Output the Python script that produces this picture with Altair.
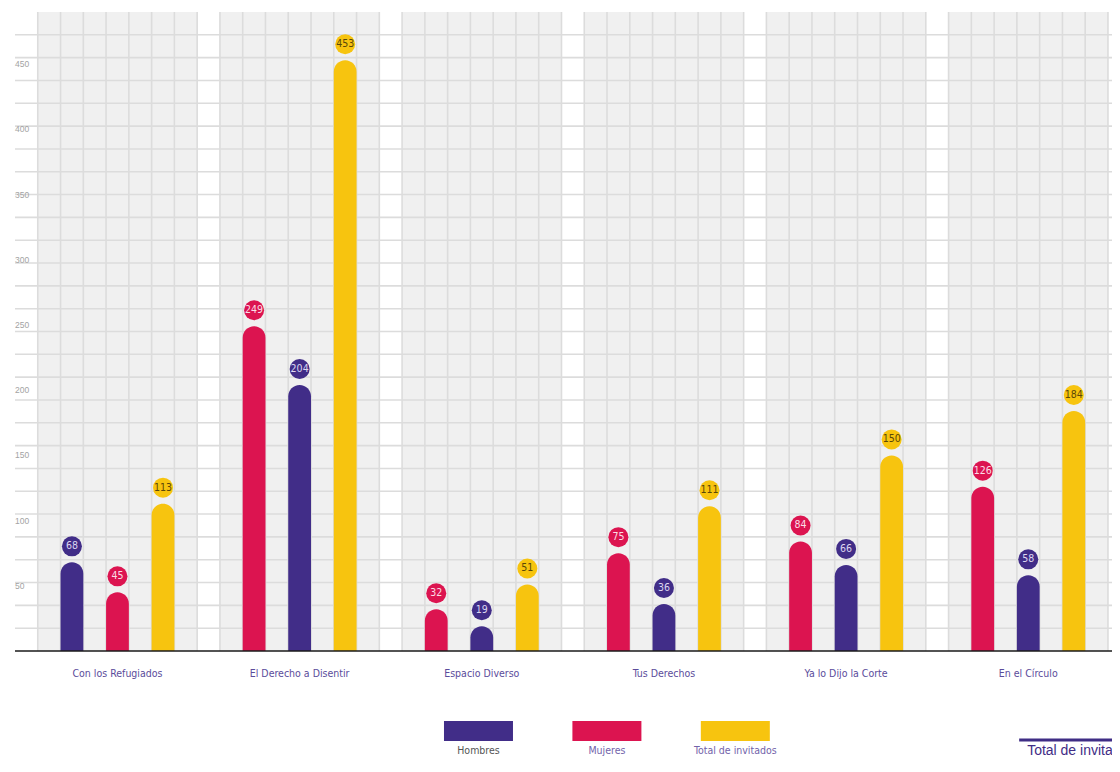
import altair as alt
import pandas as pd

# ---- data ----
programs = ["Con los Refugiados", "El Derecho a Disentir", "Espacio Diverso",
            "Tus Derechos", "Ya lo Dijo la Corte", "En el Círculo"]
hombres = [68, 204, 19, 36, 66, 58]
mujeres = [45, 249, 32, 75, 84, 126]
total = [113, 453, 51, 111, 150, 184]
series = ["Hombres", "Mujeres", "Total de invitados"]
# order of the three bars inside each group
orders = [["Hombres", "Mujeres", "Total de invitados"]] + \
         [["Mujeres", "Hombres", "Total de invitados"]] * 5
y_tick_labels = [50, 100, 150, 200, 250, 300, 350, 400, 450]
title_text = "Total de invitados"

# ---- styling ----
colors = ["#412d88", "#dc1450", "#f7c40f"]
value_text_colors = ["#dcd6f0", "#fbdde6", "#5a4708"]
legend_text_colors = ["#555555", "#7263aa", "#7263aa"]
FONT = "Liberation Sans Narrow, DejaVu Sans Condensed, Liberation Sans, sans-serif"

# grid layout (in cell units)
CELL_PX = 22.77
PLOT_W, PLOT_H = 1097, 639
N_ROWS, ROW_UNITS, GROUP = 28, 17.5, 8
XMAX = PLOT_W / CELL_PX
N_VLINES = 48
YMAX = N_ROWS * ROW_UNITS
xs = alt.Scale(domain=[0, XMAX], nice=False, zero=False)
ys = alt.Scale(domain=[0, YMAX], nice=False, zero=True)

values = {"Hombres": hombres, "Mujeres": mujeres, "Total de invitados": total}
rows = []
for g, prog in enumerate(programs):
    for slot, s in enumerate(orders[g]):
        i = series.index(s)
        x0 = GROUP * g + 2 + 2 * slot
        rows.append({"program": prog, "series": s, "value": values[s][g],
                     "x0": x0, "x1": x0 + 1, "xc": x0 + 0.5, "zero": 0,
                     "tcolor": value_text_colors[i]})
bars_df = pd.DataFrame(rows)

n = len(programs)
panels_df = pd.DataFrame({"program": programs,
                          "p0": [GROUP * g + 1 for g in range(n)],
                          "p1": [GROUP * g + GROUP for g in range(n)],
                          "pc": [GROUP * g + 1 + (GROUP - 1) / 2 for g in range(n)],
                          "y0": [0] * n, "y1": [YMAX] * n})
vgrid_df = pd.DataFrame({"gx": list(range(1, N_VLINES + 1))})
vgrid_df["y0"] = 0
vgrid_df["y1"] = YMAX
hgrid_df = pd.DataFrame({"gy": [k * ROW_UNITS for k in range(1, N_ROWS)]})
hgrid_df["x0"] = 0
hgrid_df["x1"] = XMAX
base_df = pd.DataFrame({"x0": [0], "x1": [XMAX], "y": [0]})
ylab_df = pd.DataFrame({"v": y_tick_labels, "t": [str(v) for v in y_tick_labels]})
ylab_df["x"] = 0

leg_start, leg_step, leg_w = 18.84, 5.64, 3.03
legend_df = pd.DataFrame({"series": series,
                          "l0": [leg_start + i * leg_step for i in range(3)],
                          "l1": [leg_start + i * leg_step + leg_w for i in range(3)],
                          "lc": [leg_start + i * leg_step + leg_w / 2 for i in range(3)],
                          "lcol": legend_text_colors})
title_df = pd.DataFrame({"t": [title_text], "a": [44.1], "b": [XMAX], "tx": [44.45]})

color_enc = alt.Color("series:N", scale=alt.Scale(domain=series, range=colors), legend=None)

panels = alt.Chart(panels_df).mark_rect(color="#f0f0f0").encode(
    x=alt.X("p0:Q", scale=xs, axis=None), x2="p1:Q",
    y=alt.Y("y0:Q", scale=ys, axis=None), y2="y1:Q")

vgrid = alt.Chart(vgrid_df).mark_rule(color="#dcdcdc", strokeWidth=1.6).encode(
    x=alt.X("gx:Q", scale=xs, axis=None),
    y=alt.Y("y0:Q", scale=ys, axis=None), y2="y1:Q")

hgrid = alt.Chart(hgrid_df).mark_rule(color="#dcdcdc", strokeWidth=1.6).encode(
    y=alt.Y("gy:Q", scale=ys, axis=None),
    x=alt.X("x0:Q", scale=xs, axis=None), x2="x1:Q")

ylabels = alt.Chart(ylab_df).mark_text(align="left", baseline="middle", fontSize=8.5,
                                       font="Liberation Sans, sans-serif", color="#a3a3a3").encode(
    x=alt.X("x:Q", scale=xs, axis=None), y=alt.Y("v:Q", scale=ys, axis=None), text="t:N")

bars = alt.Chart(bars_df).mark_bar(cornerRadiusTopLeft=11.4, cornerRadiusTopRight=11.4).encode(
    x=alt.X("x0:Q", scale=xs, axis=None), x2="x1:Q",
    y=alt.Y("value:Q", scale=ys, axis=None), y2="zero:Q",
    color=color_enc)

baseline = alt.Chart(base_df).mark_rule(color="#1a1a1a", strokeWidth=1.6).encode(
    x=alt.X("x0:Q", scale=xs, axis=None), x2="x1:Q", y=alt.Y("y:Q", scale=ys, axis=None))

dots = alt.Chart(bars_df).mark_point(filled=True, shape="circle", size=400, opacity=1,
                                     yOffset=-16).encode(
    x=alt.X("xc:Q", scale=xs, axis=None), y=alt.Y("value:Q", scale=ys, axis=None),
    color=color_enc)

dot_text = alt.Chart(bars_df).mark_text(yOffset=-16, baseline="middle", fontSize=10.5,
                                        font=FONT).encode(
    x=alt.X("xc:Q", scale=xs, axis=None), y=alt.Y("value:Q", scale=ys, axis=None),
    text="value:Q", color=alt.Color("tcolor:N", scale=None))

xlabels = alt.Chart(panels_df).mark_text(baseline="middle", fontSize=10.5, font=FONT,
                                         color="#5b4c9b", dy=23).encode(
    x=alt.X("pc:Q", scale=xs, axis=None), y=alt.Y("y0:Q", scale=ys, axis=None),
    text="program:N")

legend_rects = alt.Chart(legend_df).mark_rect().encode(
    x=alt.X("l0:Q", scale=xs, axis=None), x2="l1:Q",
    y=alt.value(709), y2=alt.value(729), color=color_enc)

legend_text = alt.Chart(legend_df).mark_text(baseline="middle", fontSize=10.5, font=FONT).encode(
    x=alt.X("lc:Q", scale=xs, axis=None), y=alt.value(739), text="series:N",
    color=alt.Color("lcol:N", scale=None))

title_line = alt.Chart(title_df).mark_rule(color="#3f2d85", strokeWidth=3).encode(
    x=alt.X("a:Q", scale=xs, axis=None), x2="b:Q", y=alt.value(728))

title_txt = alt.Chart(title_df).mark_text(align="left", baseline="middle", fontSize=14,
                                          font="Liberation Sans, sans-serif",
                                          color="#3f2d85").encode(
    x=alt.X("tx:Q", scale=xs, axis=None), y=alt.value(739), text="t:N")

chart = alt.layer(panels, vgrid, hgrid, ylabels, bars, baseline, dots, dot_text, xlabels,
                  legend_rects, legend_text, title_line, title_txt).properties(
    width=PLOT_W, height=PLOT_H, background="white",
    autosize=alt.AutoSizeParams(type="none"),
    padding={"left": 7, "top": 4, "right": 0, "bottom": 107}
).configure_view(stroke=None)

chart.save("out.html", embed_options={"renderer": "svg", "actions": False})
